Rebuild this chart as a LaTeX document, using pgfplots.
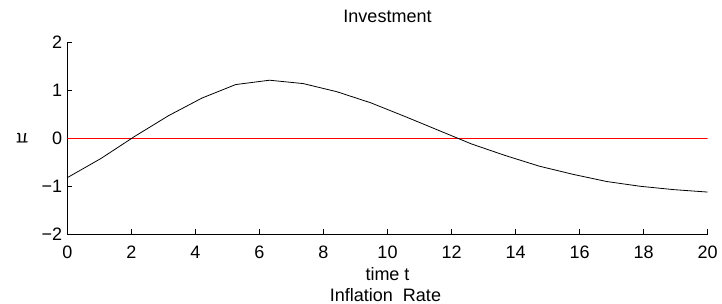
\documentclass[border=0pt]{standalone}
\usepackage{fontspec}
\setmainfont{Liberation Sans}
\usepackage{pgfplots}
\pgfplotsset{compat=1.18}
\begin{document}
\begin{tikzpicture}[font=\fontsize{18bp}{21bp}\selectfont]
\begin{axis}[
  name=ax,
  scale only axis,
  width=640.4bp, height=192bp,
  xmin=0, xmax=20, ymin=-2, ymax=2,
  axis x line*=bottom, axis y line*=left,
  axis line style={-, line width=0.8bp, black},
  xtick={0,2,...,20},
  ytick={-2,-1,0,1,2},
  yticklabels={−2,−1,0,1,2},
  tick align=inside,
  major tick length=5bp,
  tick style={line width=0.8bp, black},
  /pgf/number format/assume math mode=true,
  every tick label/.append style={font=\fontsize{18bp}{21bp}\selectfont},
  xticklabel style={anchor=base, yshift=-24bp},
  yticklabel style={anchor=east, inner sep=0pt, xshift=-5bp},
  title={Investment},
  title style={at={(axis description cs:0.5,1)}, anchor=base, yshift=14bp, inner sep=0pt, font=\fontsize{18bp}{21bp}\selectfont},
  xlabel={time t},
  xlabel style={at={(axis description cs:0.5,0)}, anchor=base, yshift=-45.7bp, inner sep=0pt, font=\fontsize{18bp}{21bp}\selectfont},
  ylabel={π},
  ylabel style={at={(axis description cs:-0.0705,0.5)}, anchor=center, rotate=90, inner sep=0pt, font=\fontsize{18bp}{21bp}\selectfont},
]
\addplot[red, line width=0.8bp] coordinates {(0,0) (20,0)};
\addplot[black, line width=0.8bp] coordinates {
(0,-0.82) (1.053,-0.42) (2.105,0.04) (3.158,0.47) (4.211,0.84)
(5.263,1.12) (6.316,1.21) (7.368,1.14) (8.421,0.97) (9.474,0.74)
(10.526,0.46) (11.579,0.17) (12.632,-0.12) (13.684,-0.36) (14.737,-0.58)
(15.789,-0.75) (16.842,-0.90) (17.895,-1.00) (18.947,-1.07) (20,-1.12)
};
\end{axis}
\node[anchor=base, inner sep=0pt] at ([xshift=-2bp, yshift=-66.7bp]ax.south) {Inflation\ \ Rate};
\pgfresetboundingbox
\path (ax.south west) ++(-67.3bp,-69.7bp) rectangle ++(722bp,304bp);
\end{tikzpicture}
\end{document}
